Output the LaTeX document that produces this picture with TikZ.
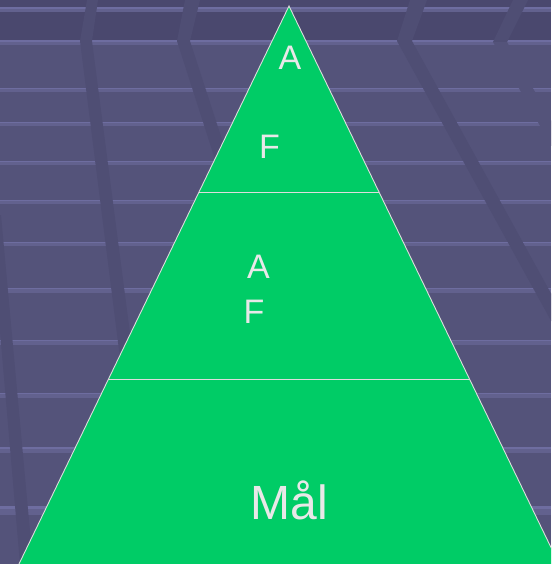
\documentclass[tikz,border=0pt]{standalone}
\usepackage{fontspec}
\setmainfont{Liberation Sans}
\definecolor{wallbg}{HTML}{54537A}
\definecolor{wallband}{HTML}{4A486E}
\definecolor{rail}{HTML}{62618E}
\definecolor{railtop}{HTML}{6E6DA0}
\definecolor{beam}{HTML}{4F4E74}
\definecolor{pyrgreen}{HTML}{00CC66}
\definecolor{pyredge}{HTML}{DDDDDD}
\definecolor{pyrtext}{HTML}{E8E8E8}
\begin{document}
\begin{tikzpicture}[x=1pt,y=-1pt,
  label/.style={inner sep=0pt,anchor=base,text=pyrtext,font=\fontsize{34}{36}\selectfont},
  biglabel/.style={label,font=\fontsize{48}{50}\selectfont},
  edge/.style={draw=pyredge,line width=0.9pt}]
\useasboundingbox (0,0) rectangle (551,564);
\begin{scope}
\clip (0,0) rectangle (551,564);
% wall
\fill[wallbg] (0,0) rectangle (551,564);
\fill[wallband] (0,0) rectangle (551,42);
% horizontal rails: centre and thickness
\foreach \y/\t in {10/5,43/5,90/4,124/4,163/4,202/4,244/4,290/5,342/5,395/5,450/6,510/9}{
  \fill[rail] (0,\y-\t/2) rectangle (551,\y+\t/2);
  \fill[railtop] (0,\y-\t/2) rectangle (551,\y-\t/6);
}
% slanted beams
\fill[beam] (87,0) -- (98,0) -- (92,41) -- (160,564) -- (146,564) -- (80,41) -- cycle;
\fill[beam] (185,0) -- (200,0) -- (190,41) -- (360,564) -- (345,564) -- (177,41) -- cycle;
\fill[beam] (410,0) -- (427,0) -- (412,41) -- (700,564) -- (685,564) -- (397,41) -- cycle;
\fill[beam] (513,0) -- (528,0) -- (507,42) -- (493,42) -- cycle;
\fill[wallbg] (493,42) -- (507,42) -- (800,564) -- (786,564) -- cycle;
\fill[beam] (-10,215) -- (1,215) -- (33,564) -- (20,564) -- cycle;
% pyramid
\coordinate (apex) at (289,6);
\coordinate (bl) at (19,564);
\coordinate (br) at (559,564);
\fill[pyrgreen] (apex) -- (bl) -- (br) -- cycle;
\draw[edge,line join=miter] (bl) -- (apex) -- (br);
\coordinate (d1l) at (199,192);
\coordinate (d1r) at (379,192);
\coordinate (d2l) at (108,379);
\coordinate (d2r) at (470,379);
\draw[edge] (d1l) -- (d1r);
\draw[edge] (d2l) -- (d2r);
\end{scope}
% labels
\node[label] (topA) at (290,69.5) {A};
\node[label] (topF) at (269.5,159) {F};
\node[label] (midA) at (258.5,278) {A};
\node[label] (midF) at (254,323) {F};
\node[biglabel] (goal) at (289.5,519) {Mål};
\end{tikzpicture}
\end{document}
